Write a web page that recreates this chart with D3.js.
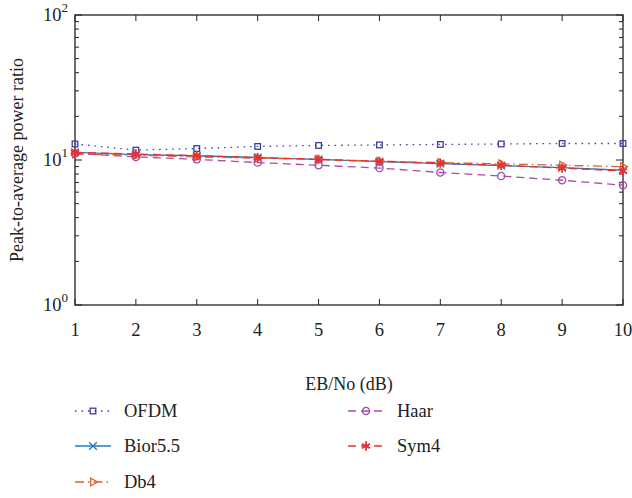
<!DOCTYPE html>
<html>
<head>
<meta charset="utf-8">
<script src="https://cdn.jsdelivr.net/npm/d3@7"></script>
<style>
  body { margin: 0; background: #fff; }
  text { font-family: "Liberation Serif", "DejaVu Serif", serif; fill: #222; }
</style>
</head>
<body>
<div id="chart"></div>
<script>
// data
var xValues = [1, 2, 3, 4, 5, 6, 7, 8, 9, 10];
var ofdm  = [12.9, 11.7, 12.0, 12.4, 12.6, 12.7, 12.8, 12.9, 13.0, 13.0];
var bior  = [11.3, 10.9, 10.7, 10.4, 10.1, 9.75, 9.45, 9.15, 8.85, 8.5];
var db4   = [11.0, 10.8, 10.5, 10.3, 10.1, 9.8, 9.6, 9.4, 9.2, 9.0];
var haar  = [11.1, 10.5, 10.1, 9.6, 9.2, 8.8, 8.2, 7.75, 7.25, 6.7];
var sym4  = [11.3, 11.0, 10.7, 10.4, 10.1, 9.8, 9.5, 9.2, 8.8, 8.4];
var seriesNames = ["OFDM", "Bior5.5", "Db4", "Haar", "Sym4"];
var yTickExps = [0, 1, 2];

var series = [
  { name: seriesNames[0], values: ofdm, color: "#3d3d9f", dash: "1.5,5", marker: "square" },
  { name: seriesNames[1], values: bior, color: "#1f7cc4", dash: null, marker: "times" },
  { name: seriesNames[2], values: db4,  color: "#e0602a", dash: "9,4,1.5,4", marker: "triangle" },
  { name: seriesNames[3], values: haar, color: "#a64ca6", dash: "8,5", marker: "circle" },
  { name: seriesNames[4], values: sym4, color: "#ee2d2d", dash: "8,5", marker: "asterisk" }
];

var margin = { top: 15, right: 9, bottom: 193, left: 75 },
    width = 632 - margin.left - margin.right,
    height = 498 - margin.top - margin.bottom;

var svg = d3.select("#chart")
  .append("svg")
  .attr("width", 632)
  .attr("height", 498);

var g = svg.append("g")
  .attr("transform", "translate(" + margin.left + "," + margin.top + ")");

var x = d3.scaleLinear().domain([1, 10]).range([0, width]);
var y = d3.scaleLog().domain([1, 100]).range([height, 0]);

// axes box
g.append("rect")
  .attr("width", width).attr("height", height)
  .attr("fill", "none").attr("stroke", "#222").attr("stroke-width", 1.3);

// x ticks (inward, bottom and top)
xValues.forEach(function(v) {
  g.append("line").attr("x1", x(v)).attr("x2", x(v))
    .attr("y1", height).attr("y2", height - 6).attr("stroke", "#222");
  g.append("line").attr("x1", x(v)).attr("x2", x(v))
    .attr("y1", 0).attr("y2", 6).attr("stroke", "#222");
  g.append("text").attr("x", x(v)).attr("y", height + 31)
    .attr("text-anchor", "middle").style("font-size", "18.5px").text(v);
});

// y ticks, major and minor, both sides
var yTicks = y.ticks();
yTicks.forEach(function(t) {
  var major = Math.abs(Math.log10(t) - Math.round(Math.log10(t))) < 1e-9;
  var len = major ? 7 : 4;
  g.append("line").attr("x1", 0).attr("x2", len)
    .attr("y1", y(t)).attr("y2", y(t)).attr("stroke", "#222");
  g.append("line").attr("x1", width).attr("x2", width - len)
    .attr("y1", y(t)).attr("y2", y(t)).attr("stroke", "#222");
});

yTickExps.forEach(function(e) {
  var t = g.append("text").attr("x", -7).attr("y", y(Math.pow(10, e)) + 6)
    .attr("text-anchor", "end").style("font-size", "18.5px");
  t.append("tspan").text("10");
  t.append("tspan").attr("dy", -9).style("font-size", "13px").text(e);
});

// axis titles
svg.append("text")
  .attr("x", margin.left + width / 2).attr("y", 390)
  .attr("text-anchor", "middle").style("font-size", "18px")
  .text("EB/No (dB)");

svg.append("text")
  .attr("transform", "translate(23," + (margin.top + height / 2) + ") rotate(-90)")
  .attr("text-anchor", "middle").style("font-size", "18px")
  .text("Peak-to-average power ratio");

// marker drawing
function drawMarker(sel, type, color) {
  if (type === "square") {
    sel.append("rect").attr("x", -2.8).attr("y", -2.8).attr("width", 5.6).attr("height", 5.6)
      .attr("fill", "none").attr("stroke", color).attr("stroke-width", 1.3);
  } else if (type === "circle") {
    sel.append("circle").attr("r", 3.6)
      .attr("fill", "none").attr("stroke", color).attr("stroke-width", 1.3);
  } else if (type === "times") {
    sel.append("path").attr("d", d3.symbol(d3.symbolTimes, 40)())
      .attr("fill", "none").attr("stroke", color).attr("stroke-width", 1.3);
  } else if (type === "asterisk") {
    sel.append("path").attr("d", d3.symbol(d3.symbolAsterisk, 60)())
      .attr("fill", "none").attr("stroke", color).attr("stroke-width", 1.8);
  } else if (type === "triangle") {
    sel.append("path").attr("d", d3.symbol(d3.symbolTriangle2, 45)())
      .attr("transform", "rotate(90)")
      .attr("fill", "none").attr("stroke", color).attr("stroke-width", 1.3);
  }
}

var line = d3.line()
  .x(function(d, i) { return x(xValues[i]); })
  .y(function(d) { return y(d); });

series.forEach(function(s) {
  g.append("path")
    .datum(s.values)
    .attr("d", line)
    .attr("fill", "none")
    .attr("stroke", s.color)
    .attr("stroke-width", 1.3)
    .attr("stroke-dasharray", s.dash);

  s.values.forEach(function(v, i) {
    var m = g.append("g").attr("transform", "translate(" + x(xValues[i]) + "," + y(v) + ")");
    drawMarker(m, s.marker, s.color);
  });
});

// legend
var legendPos = [
  { x: 75, y: 411 }, { x: 75, y: 446 }, { x: 75, y: 482 },
  { x: 348, y: 411 }, { x: 348, y: 446 }
];
series.forEach(function(s, k) {
  var p = legendPos[k];
  var lg = svg.append("g").attr("transform", "translate(" + p.x + "," + p.y + ")");
  lg.append("line").attr("x1", 0).attr("x2", 36).attr("y1", 0).attr("y2", 0)
    .attr("stroke", s.color).attr("stroke-width", 1.3)
    .attr("stroke-dasharray", s.dash);
  var m = lg.append("g").attr("transform", "translate(18,0)");
  drawMarker(m, s.marker, s.color);
  lg.append("text").attr("x", 49).attr("y", 6).style("font-size", "18.5px").text(s.name);
});
</script>
</body>
</html>
